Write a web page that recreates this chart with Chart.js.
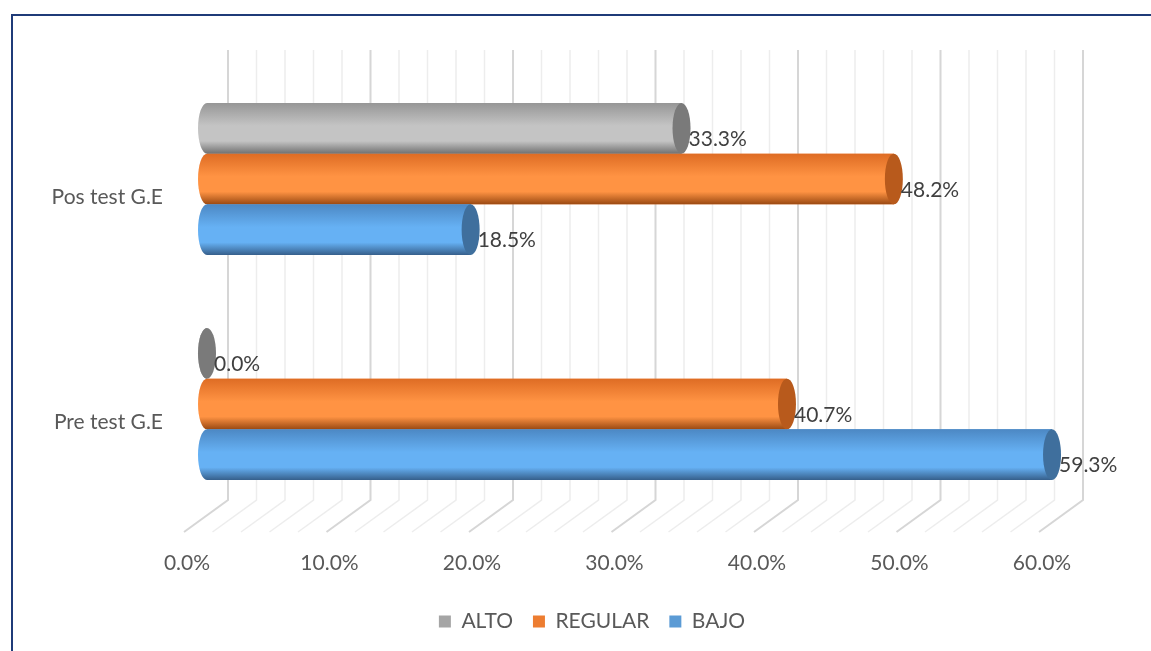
<!DOCTYPE html>
<html>
<head>
<meta charset="utf-8">
<script src="https://cdn.jsdelivr.net/npm/chart.js@4.4.0/dist/chart.umd.min.js"></script>
<style>
  html, body { margin: 0; padding: 0; background: #fff; }
  #wrap { width: 1151px; height: 651px; }
</style>
</head>
<body>
<div id="wrap"><canvas id="chart" width="1151" height="651"></canvas></div>
<script>
// chart data
const categories = ["Pos test G.E", "Pre test G.E"];
const seriesNames = ["ALTO", "REGULAR", "BAJO"];
const altoValues = [0.333, 0.0];
const regularValues = [0.482, 0.407];
const bajoValues = [0.185, 0.593];
const tickLabels = ["0.0%", "10.0%", "20.0%", "30.0%", "40.0%", "50.0%", "60.0%"];

const legendColors = ["#A5A5A5", "#ED7D31", "#5B9BD5"];
// shading for the cylinders: top edge, middle highlight, bottom edge, end cap
const shades = [
    { top: "#969696", mid: "#c4c4c4", bot: "#717171", cap: "#7a7a7a" },
    { top: "#de6c24", mid: "#ff9343", bot: "#9a4912", cap: "#b85a1c" },
    { top: "#4c88c4", mid: "#66b1f4", bot: "#365f8b", cap: "#3f6f9d" }
];

const textColor = "#595959";
const fontFamily = "Lato";
const fontSize = 21;
const depth = 21; // half the depth of the fake 3d floor

// draws frame, 3d grid, cylinders and value labels
const cylinderPlugin = {
    id: "cylinders",
    beforeDraw(chart) {
        const ctx = chart.ctx;
        ctx.save();
        ctx.fillStyle = "#fff";
        ctx.fillRect(0, 0, chart.width, chart.height);
        ctx.strokeStyle = "#1f3b78";
        ctx.lineWidth = 2;
        ctx.strokeRect(12, 15, chart.width + 20, chart.height + 20);
        ctx.restore();
    },
    beforeDatasetsDraw(chart) {
        const ctx = chart.ctx;
        const xs = chart.scales.x;
        const wallTop = 50, wallBottom = 500, floorFront = 532;
        ctx.save();
        for (let i = 0; i <= 30; i++) {
            const px = xs.getPixelForValue(i * 0.02);
            const major = i % 5 === 0;
            ctx.strokeStyle = major ? "#d6d6d6" : "#ededed";
            ctx.lineWidth = major ? 2 : 1.5;
            ctx.beginPath();
            ctx.moveTo(px + depth, wallTop);
            ctx.lineTo(px + depth, wallBottom);
            ctx.lineTo(px - depth - 2, floorFront);
            ctx.stroke();
        }
        ctx.restore();
    },
    afterDatasetsDraw(chart) {
        const ctx = chart.ctx;
        ctx.save();
        chart.data.datasets.forEach((ds, di) => {
            const meta = chart.getDatasetMeta(di);
            const c = shades[di];
            meta.data.forEach((bar, i) => {
                const p = bar.getProps(["x", "y", "base", "height"], true);
                const h = Math.abs(p.height);
                const top = p.y - h / 2;
                const ry = h / 2, rx = 9;
                const x0 = p.base, x1 = p.x;

                const g = ctx.createLinearGradient(0, top, 0, top + h);
                g.addColorStop(0, c.top);
                g.addColorStop(0.45, c.mid);
                g.addColorStop(0.75, c.mid);
                g.addColorStop(1, c.bot);
                ctx.fillStyle = g;
                ctx.beginPath();
                ctx.moveTo(x0, top);
                ctx.lineTo(x1, top);
                ctx.lineTo(x1, top + h);
                ctx.lineTo(x0, top + h);
                ctx.ellipse(x0, p.y, rx, ry, 0, Math.PI / 2, Math.PI * 1.5);
                ctx.closePath();
                ctx.fill();

                ctx.fillStyle = c.cap;
                ctx.beginPath();
                ctx.ellipse(x1, p.y, rx, ry, 0, 0, Math.PI * 2);
                ctx.fill();

                // value label
                ctx.fillStyle = "#404040";
                ctx.font = fontSize + "px " + fontFamily;
                ctx.textAlign = "left";
                ctx.textBaseline = "middle";
                ctx.fillText((ds.data[i] * 100).toFixed(1) + "%", x1 + rx - 2, p.y + 11);
            });
        });
        ctx.restore();
    }
};

function makeDataset(label, values, idx) {
    return {
        label: label,
        data: values,
        backgroundColor: legendColors[idx],
        borderWidth: 0,
        barPercentage: 1,
        categoryPercentage: 0.676
    };
}

new Chart(document.getElementById("chart"), {
    type: "bar",
    data: {
        labels: categories,
        datasets: [
            makeDataset(seriesNames[0], altoValues, 0),
            makeDataset(seriesNames[1], regularValues, 1),
            makeDataset(seriesNames[2], bajoValues, 2)
        ]
    },
    options: {
        indexAxis: "y",
        responsive: false,
        animation: false,
        devicePixelRatio: 1,
        layout: {
            padding: { top: 66.5, right: 0, bottom: 9, left: 33 }
        },
        scales: {
            x: {
                min: 0,
                max: 0.6,
                grid: { display: false },
                border: { display: false },
                ticks: {
                    stepSize: 0.1,
                    padding: 26,
                    labelOffset: -20,
                    maxRotation: 0,
                    autoSkip: false,
                    color: textColor,
                    font: { family: fontFamily, size: fontSize },
                    callback: (v, i) => tickLabels[i]
                },
                afterFit: (scale) => { scale.height = 74.5; }
            },
            y: {
                grid: { display: false },
                border: { display: false },
                ticks: {
                    padding: 36,
                    labelOffset: 18,
                    color: textColor,
                    font: { family: fontFamily, size: fontSize }
                },
                afterFit: (scale) => { scale.width = 174; }
            },
            // empty right-hand axis, only reserves room right of the plot
            spacer: {
                type: "category",
                position: "right",
                labels: categories,
                grid: { display: false },
                border: { display: false },
                ticks: { display: false },
                afterFit: (scale) => { scale.width = 89; }
            }
        },
        plugins: {
            legend: {
                position: "bottom",
                labels: {
                    boxWidth: 12,
                    boxHeight: 12,
                    padding: 20,
                    color: textColor,
                    font: { family: fontFamily, size: fontSize }
                }
            },
            tooltip: { enabled: false }
        }
    },
    plugins: [cylinderPlugin]
});
</script>
</body>
</html>
